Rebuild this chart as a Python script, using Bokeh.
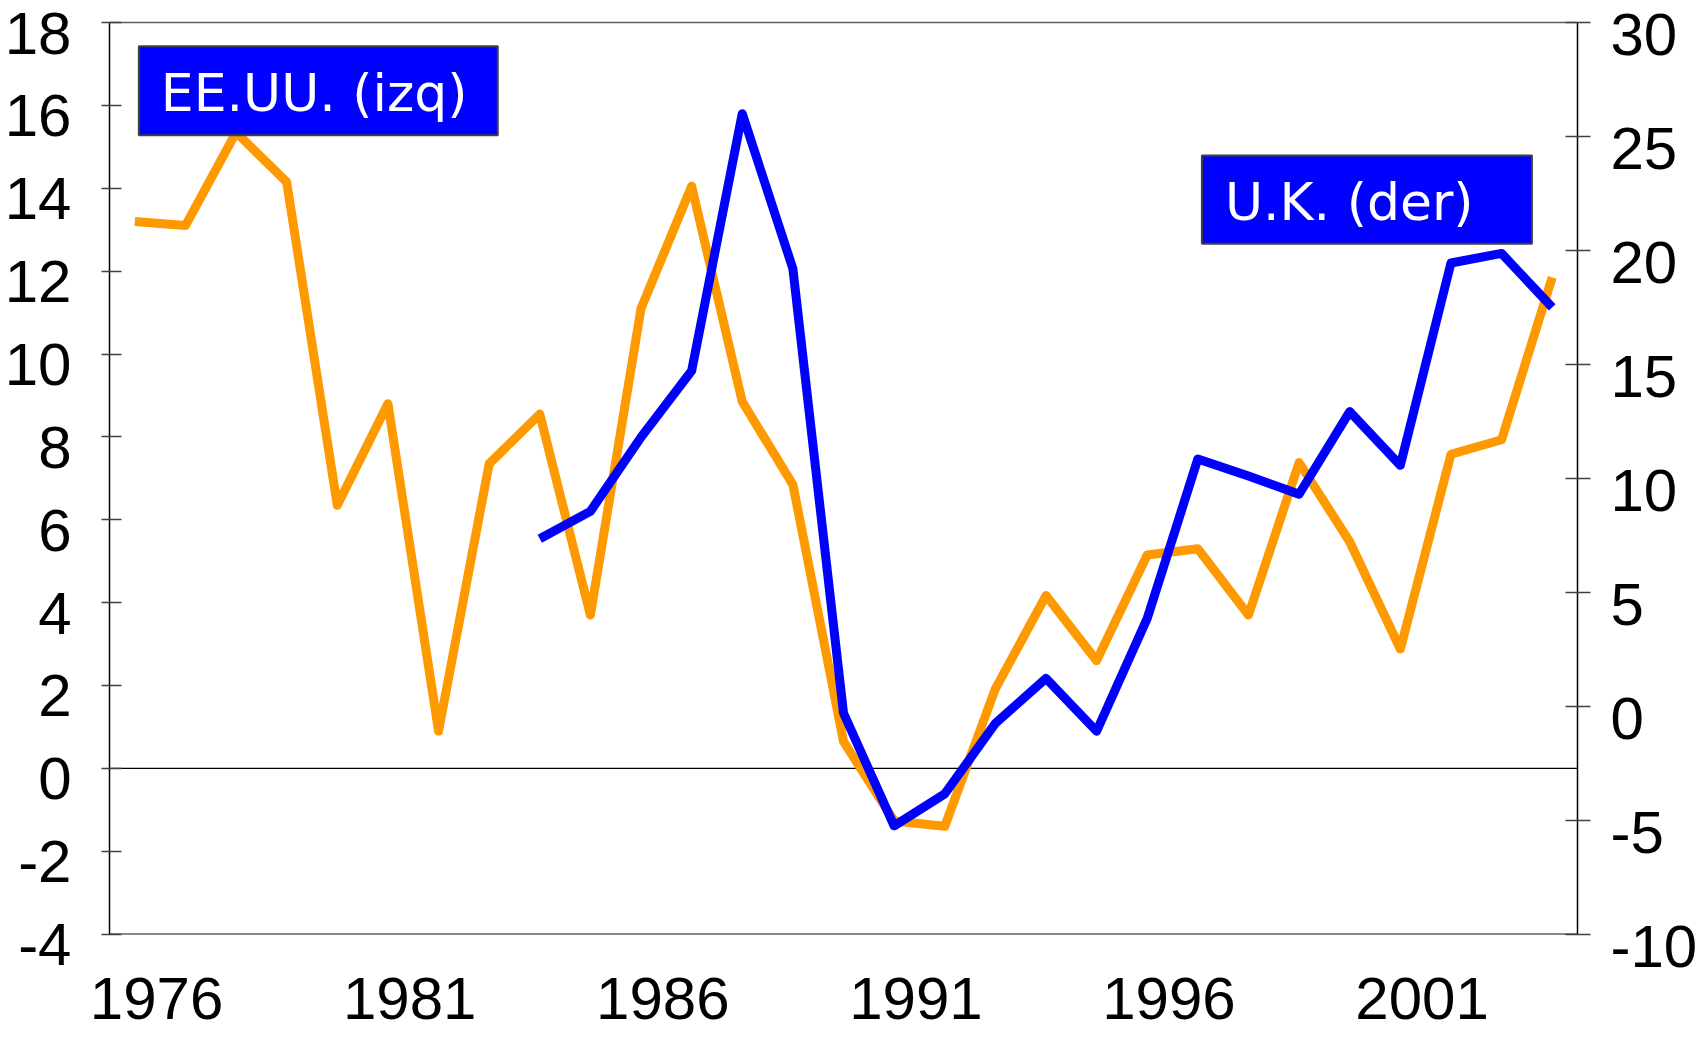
from bokeh.plotting import figure
from bokeh.models import (Range1d, LinearAxis, FixedTicker, CustomJSTickFormatter,
                          Span, BoxAnnotation, Label)
from bokeh.embed import file_html
from bokeh.resources import INLINE

# ---------------- data ----------------
years_us = list(range(1976, 2005))
us_values = [13.2, 13.1, 15.35, 14.15, 6.35, 8.8, 0.9, 7.35, 8.55, 3.7,
             11.1, 14.05, 8.85, 6.85, 0.65, -1.27, -1.4, 1.92, 4.17, 2.6,
             5.15, 5.3, 3.7, 7.38, 5.47, 2.88, 7.58, 7.93, 11.85]

years_uk = list(range(1984, 2005))
uk_values = [7.35, 8.55, 11.8, 14.72, 26.0, 19.2, -0.3, -5.25, -3.85, -0.75,
             1.22, -1.1, 3.85, 10.85, 10.1, 9.3, 12.93, 10.57, 19.45, 19.87, 17.5]

year_labels = [1976, 1981, 1986, 1991, 1996, 2001]
left_ticks = [-4, -2, 0, 2, 4, 6, 8, 10, 12, 14, 16, 18]
right_ticks = [-10, -5, 0, 5, 10, 15, 20, 25, 30]
series_names = ["EE.UU. (izq)", "U.K. (der)"]

# ---------------- styling / layout ----------------
ORANGE = "#FF9900"
BLUE = "#0000FF"
FONT = "Liberation Sans"
TICK_SIZE = "60px"
FRAME_GREY = "#606060"

L_MIN, L_MAX = left_ticks[0], left_ticks[-1]
R_MIN, R_MAX = right_ticks[0], right_ticks[-1]
ratio = (R_MAX - R_MIN) / (L_MAX - L_MIN)
# a little room below the bottom line so the lowered tick labels can be drawn
l_lo, l_hi = L_MIN - 0.3, L_MAX + 0.05
r_lo, r_hi = R_MIN + (l_lo - L_MIN) * ratio, R_MIN + (l_hi - L_MIN) * ratio

x0, x1 = 1975.5, 2004.5
p = figure(frame_width=1468, frame_height=926,
           x_range=Range1d(x0, x1), y_range=Range1d(l_lo, l_hi),
           output_backend="svg", toolbar_location=None,
           min_border_left=109, min_border_right=126,
           min_border_top=20, min_border_bottom=91,
           background_fill_color="white", border_fill_color="white")
p.extra_y_ranges = {"right": Range1d(r_lo, r_hi)}
p.grid.visible = False
p.outline_line_color = None

# frame lines and zero line
p.add_layout(Span(location=L_MAX, dimension="width", line_color=FRAME_GREY,
                  line_width=1.5, level="underlay"))
p.add_layout(Span(location=L_MIN, dimension="width", line_color=FRAME_GREY,
                  line_width=1.5, level="underlay"))
p.add_layout(Span(location=0, dimension="width", line_color="black",
                  line_width=1.2, level="underlay"))

# series
p.line(years_us, us_values, line_color=ORANGE, line_width=9, line_join="round")
p.line(years_uk, uk_values, line_color=BLUE, line_width=9, line_join="round",
       y_range_name="right")

# x axis (labels slightly right of the category centre, as in the original)
xa = p.xaxis[0]
xa.ticker = FixedTicker(ticks=[y + 0.43 for y in year_labels])
xa.formatter = CustomJSTickFormatter(code="return String(Math.floor(tick))")
xa.major_tick_line_color = None
xa.minor_tick_line_color = None
xa.major_tick_out = 0
xa.major_tick_in = 0
xa.major_label_standoff = 31
xa.major_label_text_font = FONT
xa.major_label_text_font_size = TICK_SIZE
xa.major_label_text_color = "black"
xa.axis_line_color = None


def style_value_axis(ax, ticks, shift, tick_out, standoff):
    # labels sit a little below their tick mark, as in the original chart
    ax.bounds = (ticks[0], ticks[-1])
    ax.ticker = FixedTicker(ticks=[t - shift for t in ticks], minor_ticks=ticks)
    ax.formatter = CustomJSTickFormatter(args=dict(d=shift),
                                         code="return String(Math.round(tick + d))")
    ax.major_tick_line_color = None
    ax.major_tick_in = 0
    ax.major_tick_out = tick_out
    ax.minor_tick_in = 12
    ax.minor_tick_out = tick_out
    ax.minor_tick_line_color = "#404040"
    ax.minor_tick_line_width = 1.5
    ax.axis_line_color = "black"
    ax.axis_line_width = 1.5
    ax.major_label_standoff = standoff
    ax.major_label_text_font = FONT
    ax.major_label_text_font_size = TICK_SIZE
    ax.major_label_text_color = "black"


px_left = 926 / (l_hi - l_lo)
px_right = 926 / (r_hi - r_lo)
style_value_axis(p.yaxis[0], left_ticks, 10.5 / px_left, 8, 30)

ra = LinearAxis(y_range_name="right")
style_value_axis(ra, right_ticks, 12 / px_right, 13, 20)
p.add_layout(ra, "right")

# series name boxes
boxes = [dict(left=1976.08, right=1983.17, bottom=15.28, top=17.43, pad=22),
         dict(left=1997.08, right=2003.60, bottom=12.66, top=14.79, pad=23)]
for name, b in zip(series_names, boxes):
    p.add_layout(BoxAnnotation(left=b["left"], right=b["right"], bottom=b["bottom"], top=b["top"],
                               fill_color=BLUE, fill_alpha=1.0,
                               line_color="#404040", line_width=2, line_alpha=1.0))
    p.add_layout(Label(x=b["left"], y=(b["bottom"] + b["top"]) / 2, x_offset=b["pad"], y_offset=-2,
                       text=name, text_color="white", text_font="DejaVu Sans",
                       text_font_size="52px", text_align="left", text_baseline="middle"))

open("out.html", "w").write(file_html(p, INLINE))
